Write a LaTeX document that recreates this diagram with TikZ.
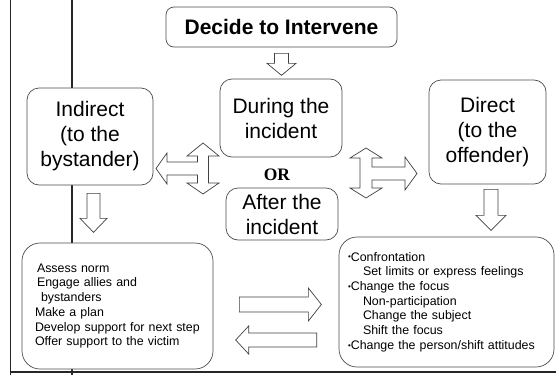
\documentclass[tikz,border=0pt]{standalone}
\usepackage{fontspec}
\setmainfont{Liberation Sans}
\newfontfamily\orfont{Liberation Serif}
\usetikzlibrary{positioning}
\usetikzlibrary{calc}
\tikzset{box/.style={draw=black!70, line width=0.7pt, rounded corners=12pt, fill=white, align=center, inner sep=0pt, font=\fontsize{21}{25}\selectfont}}
\tikzset{tactic/.style={box, rounded corners=18pt, align=left, font=\fontsize{12.4}{14.7}\selectfont}}
\tikzset{blk/.style={draw=black!75, line width=0.7pt, fill=white, line join=miter}}
\tikzset{scan/.style={draw=black!85}}
\newcommand{\tbul}{\raisebox{1.3pt}{\fontsize{8}{8}\selectfont•}}

\begin{document}
\begin{tikzpicture}[x=1pt, y=-1pt]
\useasboundingbox (0,0) rectangle (556,375);

%%% lines of the scanned page
\draw[scan, line width=1pt] (10.5,0) -- (10.5,375);
\draw[scan, line width=2.5pt] (72,0) -- (72,375);
\draw[scan, line width=1.2pt] (10.5,372) -- (556,372);

%%% The middle column

\node[box, rounded corners=8pt, minimum width=231pt, minimum height=40pt,
  font=\fontsize{21}{25}\bfseries] (decide) at (281.5,27) {Decide to Intervene};
\node[box, minimum width=122pt, minimum height=78pt] (during) at (281,118) {During the\\incident};
\node[box, minimum width=112pt, minimum height=52pt] (after) at (282,214) {After the\\incident};
\node[font=\orfont\fontsize{17.5}{20}\bfseries] (or) at (277,175) {OR};

%%% The two sides

\node[box, minimum width=126pt, minimum height=97pt] (indirect) at (90,136.5) {Indirect\\(to the\\bystander)};
\node[box, minimum width=117pt, minimum height=104pt] (direct) at (487.5,132) {Direct\\(to the\\offender)};

\node[tactic, text width=165pt, inner xsep=13pt, minimum height=126pt] (indtact) at (117.5,306) {%
\hspace*{2pt}Assess norm\\
\hspace*{2pt}Engage allies and\\
\hspace*{6pt}bystanders\\
Make a plan\\
Develop support for next step\\
Offer support to the victim};

\node[tactic, text width=197pt, inner xsep=9pt, minimum height=130pt] (dirtact) at (446.5,302) {%
\tbul Confrontation\\
\hspace*{15pt}Set limits or express feelings\\
\tbul Change the focus\\
\hspace*{15pt}Non-participation\\
\hspace*{15pt}Change the subject\\
\hspace*{15pt}Shift the focus\\
\tbul Change the person/shift attitudes};

%%% block arrows

\draw[blk] ($(decide.south)+(-7,6)$) -- ++(14,0) -- ++(0,10) -- ++(7.5,0)
 -- ++(-14.5,12) -- ++(-14.5,-12) -- ++(7.5,0) -- cycle;

\draw[blk] ($(indirect.south)+(-3,8)$) -- ++(13,0) -- ++(0,25) -- ++(7,0)
 -- ++(-13.5,14) -- ++(-13.5,-14) -- ++(7,0) -- cycle;

\draw[blk] ($(direct.south)+(-3.5,5)$) -- ++(14,0) -- ++(0,26) -- ++(8,0)
 -- ++(-15,15) -- ++(-15,-15) -- ++(8,0) -- cycle;

\coordinate (lhub) at (203,168.5);
\coordinate (rhub) at (366,173.5);

\draw[blk] (lhub) ++(0,-25.5) -- ++(16,13) -- ++(-10.5,0) -- ++(0,27) -- ++(10.5,0)
 -- ++(-16,11) -- ++(-16,-11) -- ++(10.5,0) -- ++(0,-8) -- ++(-30.5,0) -- ++(0,9)
 -- ++(-11,-15.5) -- ++(11,-15.5) -- ++(0,9) -- ++(30.5,0) -- ++(0,-6) -- ++(-10.5,0) -- cycle;

\draw[blk] (rhub) ++(0,-25.5) -- ++(16,10) -- ++(-10,0) -- ++(0,9) -- ++(33,0) -- ++(0,-10)
 -- ++(12,16.5) -- ++(-12,16.5) -- ++(0,-10) -- ++(-33,0) -- ++(0,8) -- ++(10,0)
 -- ++(-16,10) -- ++(-16,-10) -- ++(10,0) -- ++(0,-30) -- ++(-10,0) -- cycle;

\draw[blk] ($(indtact.east)+(26,-9)$) -- ++(69,0) -- ++(0,-9) -- ++(13,16.5)
 -- ++(-13,16.5) -- ++(0,-9) -- ++(-69,0) -- cycle;
\draw[blk] ($(dirtact.west)+(-22,31)$) -- ++(-68,0) -- ++(0,-7) -- ++(-13,14)
 -- ++(13,14) -- ++(0,-7) -- ++(68,0) -- cycle;

\end{tikzpicture}
\end{document}
